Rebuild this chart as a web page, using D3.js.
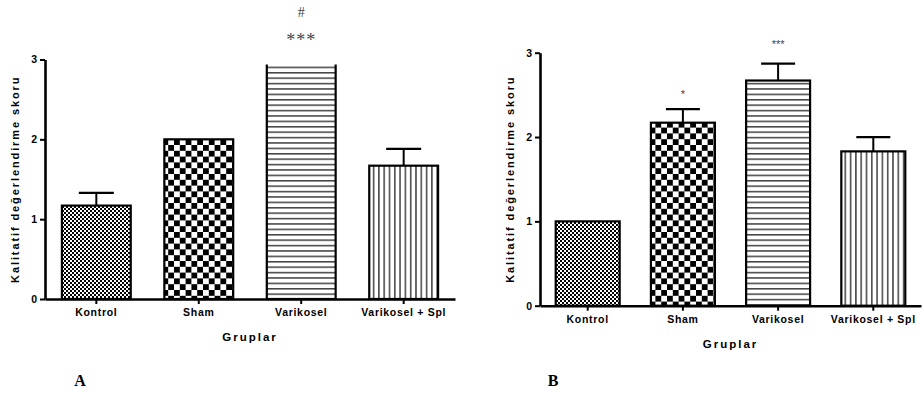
<!DOCTYPE html>
<html>
<head>
<meta charset="utf-8">
<script src="https://cdn.jsdelivr.net/npm/d3@7"></script>
<style>
  body { margin: 0; background: #fff; }
  svg { display: block; font-family: "Liberation Sans", Arial, sans-serif; }
</style>
</head>
<body>
<script>
// group names on the x axis
var groups = ["Kontrol", "Sham", "Varikosel", "Varikosel + Spl"];
var yTicks = [0, 1, 2, 3];

// panel A (means and SEM, upper error bars only)
var valuesA = [1.17, 2.0, 3.0, 1.67];
var errorsA = [0.16, 0, 0, 0.21];
var marksA = ["", "", "***", ""];
var hashA = ["", "", "#", ""];

// panel B
var valuesB = [1.0, 2.17, 2.67, 1.83];
var errorsB = [0, 0.16, 0.2, 0.17];
var marksB = ["", "*", "***", ""];

var fills = ["url(#fineCheck)", "url(#bigCheck)", "url(#hLines)", "url(#vLines)"];

var width = 923, height = 394;

var svg = d3.select("body").append("svg")
  .attr("width", width)
  .attr("height", height);

var defs = svg.append("defs");

// small checkerboard
var p1 = defs.append("pattern").attr("id", "fineCheck")
  .attr("patternUnits", "userSpaceOnUse").attr("width", 4).attr("height", 4);
p1.append("rect").attr("width", 4).attr("height", 4).attr("fill", "#fff");
p1.append("rect").attr("width", 2).attr("height", 2).attr("fill", "#000");
p1.append("rect").attr("x", 2).attr("y", 2).attr("width", 2).attr("height", 2).attr("fill", "#000");

// big checkerboard
var p2 = defs.append("pattern").attr("id", "bigCheck")
  .attr("patternUnits", "userSpaceOnUse").attr("width", 11.6).attr("height", 11.6);
p2.append("rect").attr("width", 11.6).attr("height", 11.6).attr("fill", "#fff");
p2.append("rect").attr("width", 5.8).attr("height", 5.8).attr("fill", "#000");
p2.append("rect").attr("x", 5.8).attr("y", 5.8).attr("width", 5.8).attr("height", 5.8).attr("fill", "#000");

// horizontal stripes
var p3 = defs.append("pattern").attr("id", "hLines")
  .attr("patternUnits", "userSpaceOnUse").attr("width", 10).attr("height", 5.4);
p3.append("rect").attr("width", 10).attr("height", 5.4).attr("fill", "#fff");
p3.append("rect").attr("y", 2).attr("width", 10).attr("height", 1.2).attr("fill", "#111");

// vertical stripes
var p4 = defs.append("pattern").attr("id", "vLines")
  .attr("patternUnits", "userSpaceOnUse").attr("width", 5.3).attr("height", 10);
p4.append("rect").attr("width", 5.3).attr("height", 10).attr("fill", "#fff");
p4.append("rect").attr("x", 2).attr("width", 1.2).attr("height", 10).attr("fill", "#111");

function drawPanel(cfg) {
  var g = svg.append("g");

  var x = d3.scaleBand().domain(groups)
    .range([cfg.x0, cfg.x1]).paddingInner(0.328).paddingOuter(0.165);
  var y = d3.scaleLinear().domain([0, 3]).range([cfg.yBottom, cfg.yTop]);

  // bars get cut at the top of the y axis
  var clipId = "clip" + cfg.name;
  defs.append("clipPath").attr("id", clipId)
    .append("rect")
    .attr("x", cfg.x0).attr("y", cfg.yTop + 5)
    .attr("width", cfg.x1 - cfg.x0).attr("height", cfg.yBottom - cfg.yTop);

  var bars = g.append("g").attr("clip-path", "url(#" + clipId + ")");
  bars.selectAll("rect")
    .data(cfg.values)
    .enter().append("rect")
    .attr("x", (d, i) => x(groups[i]))
    .attr("y", d => y(d))
    .attr("width", x.bandwidth())
    .attr("height", d => y(0) - y(d))
    .attr("fill", (d, i) => fills[i])
    .attr("stroke", "#000")
    .attr("stroke-width", 2.2);

  // upper error bars
  cfg.values.forEach(function (v, i) {
    var e = cfg.errors[i];
    if (!e) return;
    var cx = x(groups[i]) + x.bandwidth() / 2;
    g.append("line")
      .attr("x1", cx).attr("x2", cx)
      .attr("y1", y(v)).attr("y2", y(v + e))
      .attr("stroke", "#000").attr("stroke-width", 2);
    g.append("line")
      .attr("x1", cx - cfg.cap).attr("x2", cx + cfg.cap)
      .attr("y1", y(v + e)).attr("y2", y(v + e))
      .attr("stroke", "#000").attr("stroke-width", 2.2);
  });

  // y axis
  var yAxis = g.append("g")
    .attr("transform", "translate(" + cfg.x0 + ",0)")
    .call(d3.axisLeft(y).tickValues(yTicks).tickFormat(d3.format("d")).tickSize(5).tickSizeOuter(0));
  // x axis
  var xAxis = g.append("g")
    .attr("transform", "translate(0," + y(0) + ")")
    .call(d3.axisBottom(x).tickSize(5).tickSizeOuter(0));

  [yAxis, xAxis].forEach(function (ax) {
    ax.select(".domain").attr("stroke", "#000").attr("stroke-width", 2.6);
    ax.selectAll(".tick line").attr("stroke", "#000").attr("stroke-width", 2);
    ax.selectAll(".tick text")
      .attr("fill", "#000")
      .style("font-family", "'Liberation Sans', Arial, sans-serif")
      .style("font-weight", "bold")
      .style("font-size", "10.5px");
  });
  yAxis.selectAll(".tick text").attr("x", -8);
  xAxis.selectAll(".tick text").attr("y", 10).style("letter-spacing", "0.7px");

  // axis titles
  g.append("text")
    .attr("transform", "translate(" + cfg.yTitleX + "," + ((cfg.yTop + cfg.yBottom) / 2) + ") rotate(-90)")
    .attr("text-anchor", "middle")
    .style("font-weight", "bold")
    .style("font-size", "11px")
    .style("letter-spacing", "1.9px")
    .text("Kalitatif değerlendirme skoru");

  g.append("text")
    .attr("x", (cfg.x0 + cfg.x1) / 2 + cfg.xTitleShift)
    .attr("y", cfg.yBottom + 42)
    .attr("text-anchor", "middle")
    .style("font-weight", "bold")
    .style("font-size", "11.5px")
    .style("letter-spacing", "2px")
    .text("Gruplar");

  // significance marks
  cfg.marks.forEach(function (m, i) {
    if (!m) return;
    var cx = x(groups[i]) + x.bandwidth() / 2;
    g.append("text")
      .attr("x", cx)
      .attr("y", cfg.markY(i))
      .attr("text-anchor", "middle")
      .attr("fill", "#444")
      .style("font-family", cfg.markFont)
      .style("font-size", cfg.markSize)
      .style("letter-spacing", cfg.markSpacing)
      .text(m);
  });
  if (cfg.hash) {
    cfg.hash.forEach(function (m, i) {
      if (!m) return;
      var cx = x(groups[i]) + x.bandwidth() / 2;
      g.append("text")
        .attr("x", cx).attr("y", 17)
        .attr("text-anchor", "middle")
        .attr("fill", "#444")
        .style("font-family", "'Liberation Serif', serif")
        .style("font-size", "14px")
        .text(m);
    });
  }

  // panel letter
  g.append("text")
    .attr("x", cfg.letterX).attr("y", 386)
    .attr("text-anchor", "middle")
    .style("font-family", "'Liberation Serif', serif")
    .style("font-weight", "bold")
    .style("font-size", "16px")
    .text(cfg.name);
}

drawPanel({
  name: "A",
  values: valuesA, errors: errorsA, marks: marksA, hash: hashA,
  x0: 45, x1: 455, yTop: 59.5, yBottom: 299,
  cap: 17.5, yTitleX: 19, xTitleShift: 0, letterX: 80,
  markFont: "'Liberation Serif', serif", markSize: "18px", markSpacing: "1px",
  markY: function () { return 46; }
});

drawPanel({
  name: "B",
  values: valuesB, errors: errorsB, marks: marksB,
  x0: 540, x1: 921, yTop: 52.7, yBottom: 305.7,
  cap: 17, yTitleX: 514, xTitleShift: 0, letterX: 553,
  markFont: "'Liberation Sans', Arial, sans-serif", markSize: "11px", markSpacing: "0px",
  markY: function (i) { return i === 1 ? 98 : 48; }
});
</script>
</body>
</html>
